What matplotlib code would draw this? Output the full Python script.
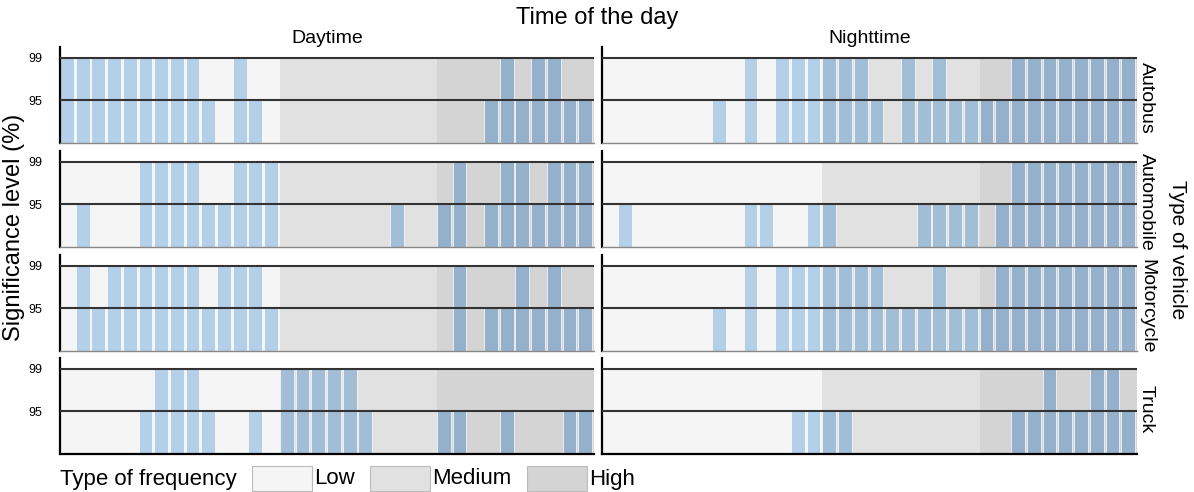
import matplotlib.pyplot as plt
from matplotlib.patches import Rectangle

plt.rcParams['font.family'] = ['Liberation Sans', 'DejaVu Sans']

vehicles = ['Autobus', 'Automobile', 'Motorcycle', 'Truck']
periods = ['Daytime', 'Nighttime']
n_slots = 34

# frequency type per time slot (L = Low, M = Medium, H = High)
freq_day = 'LLLLLLLLLLLLLLMMMMMMMMMMHHHHHHHHHH'
freq_night = 'LLLLLLLLLLLLLLMMMMMMMMMMHHHHHHHHHH'

# slots significant at 99 % and at 95 %
sig99 = {
    ('Autobus', 'Daytime'): [0, 1, 2, 3, 4, 5, 6, 7, 8, 11, 28, 30, 31],
    ('Autobus', 'Nighttime'): [9, 11, 12, 13, 14, 15, 16, 19, 21, 26, 27, 28, 29, 30, 31, 32, 33],
    ('Automobile', 'Daytime'): [5, 6, 7, 8, 11, 12, 13, 25, 28, 29, 31, 32, 33],
    ('Automobile', 'Nighttime'): [26, 27, 28, 29, 30, 31, 32, 33],
    ('Motorcycle', 'Daytime'): [1, 3, 4, 5, 6, 7, 8, 10, 11, 12, 25, 29, 31],
    ('Motorcycle', 'Nighttime'): [9, 11, 12, 13, 14, 15, 16, 17, 21, 25, 26, 27, 28, 29, 30, 31, 32, 33],
    ('Truck', 'Daytime'): [6, 7, 8, 14, 15, 16, 17, 18],
    ('Truck', 'Nighttime'): [28, 31, 32],
}
sig95 = {
    ('Autobus', 'Daytime'): [0, 1, 2, 3, 4, 5, 6, 7, 8, 9, 11, 12, 27, 28, 29, 30, 31, 32, 33],
    ('Autobus', 'Nighttime'): [7, 9, 11, 12, 13, 14, 15, 16, 17, 19, 20, 21, 22, 23, 24, 25, 26,
                               27, 28, 29, 30, 31, 32, 33],
    ('Automobile', 'Daytime'): [1, 5, 6, 7, 8, 9, 10, 11, 12, 13, 21, 24, 25, 27, 28, 29, 30, 31, 32, 33],
    ('Automobile', 'Nighttime'): [1, 9, 10, 13, 14, 20, 21, 22, 23, 25, 26, 27, 28, 29, 30, 31, 32, 33],
    ('Motorcycle', 'Daytime'): [1, 2, 3, 4, 5, 6, 7, 8, 9, 10, 11, 12, 13, 25, 27, 28, 29, 30, 31, 32, 33],
    ('Motorcycle', 'Nighttime'): [7, 9, 11, 12, 13, 14, 15, 16, 17, 18, 19, 20, 21, 22, 23, 24, 25,
                                  26, 27, 28, 29, 30, 31, 32, 33],
    ('Truck', 'Daytime'): [5, 6, 7, 8, 9, 12, 14, 15, 16, 17, 18, 19, 24, 25, 28, 32, 33],
    ('Truck', 'Nighttime'): [12, 13, 14, 15, 26, 27, 28, 29, 30, 31, 32, 33],
}

bg_col = {'L': '#f5f5f5', 'M': '#e1e1e1', 'H': '#d4d4d4'}
bar_col = {'L': '#b4d0e9', 'M': '#a2bdd6', 'H': '#94b0ca'}
freq_names = {'L': 'Low', 'M': 'Medium', 'H': 'High'}

W, H = 1194, 492
fig = plt.figure(figsize=(W / 100, H / 100), dpi=100)

row_tops = [47, 151, 255, 358]
row_h = 96
col_x = [60, 602]
col_w = [534, 535]
base = 91

for r, veh in enumerate(vehicles):
    for c, per in enumerate(periods):
        ax = fig.add_axes([col_x[c] / W, 1 - (row_tops[r] + row_h) / H, col_w[c] / W, row_h / H])
        freq = freq_day if per == 'Daytime' else freq_night
        for i, f in enumerate(freq):
            ax.bar(i, 99 - base, bottom=base, width=1, align='edge', color=bg_col[f], zorder=0)
        for i in range(n_slots):
            if i in sig99[(veh, per)]:
                top = 99
            elif i in sig95[(veh, per)]:
                top = 95
            else:
                continue
            ax.bar(i, top - base, bottom=base, width=0.88, align='edge',
                   color=bar_col[freq[i]], edgecolor='white', linewidth=0.5, zorder=1)
        for lvl in (99, 95):
            ax.axhline(lvl, color='#333333', lw=1.5, zorder=3)
        ax.set_xlim(0, n_slots)
        ax.set_ylim(base, 100)
        ax.set_xticks([])
        ax.spines['top'].set_visible(False)
        ax.spines['right'].set_visible(False)
        ax.spines['left'].set_linewidth(1.6)
        ax.spines['left'].set_color('black')
        if r == len(vehicles) - 1:
            ax.spines['bottom'].set_linewidth(1.6)
            ax.spines['bottom'].set_color('black')
        else:
            ax.spines['bottom'].set_linewidth(1.0)
            ax.spines['bottom'].set_color('#888888')
        ax.set_yticks([95, 99])
        if c == 0:
            ax.set_yticklabels(['95', '99'], fontsize=9)
            ax.tick_params(axis='y', length=0, pad=13)
        else:
            ax.set_yticklabels([])
            ax.tick_params(axis='y', length=0)
        if r == 0:
            ax.set_title(per, fontsize=14, pad=3)
        if c == 1:
            ax.text(1.002, 0.47, veh, transform=ax.transAxes, rotation=-90,
                    ha='left', va='center', fontsize=14)

fig.text(597 / W, 1 - 18 / H, 'Time of the day', ha='center', va='center', fontsize=17)
fig.text(1177 / W, 1 - 250 / H, 'Type of vehicle', ha='center', va='center',
         rotation=-90, fontsize=15)
fig.text(14 / W, 1 - 227 / H, 'Significance level (%)', ha='center', va='center',
         rotation=90, fontsize=17)

# legend
fig.text(60 / W, 1 - 479 / H, 'Type of frequency', ha='left', va='center', fontsize=16)
leg_x = {'L': 252, 'M': 370, 'H': 527}
for f in ['L', 'M', 'H']:
    fig.add_artist(Rectangle((leg_x[f] / W, 1 - 491 / H), 60 / W, 25 / H,
                             transform=fig.transFigure, facecolor=bg_col[f],
                             edgecolor='#bbbbbb', lw=0.8))
    fig.text((leg_x[f] + 62) / W, 1 - 479 / H, freq_names[f], ha='left', va='center', fontsize=16)

fig.savefig('out.png', dpi=100)
